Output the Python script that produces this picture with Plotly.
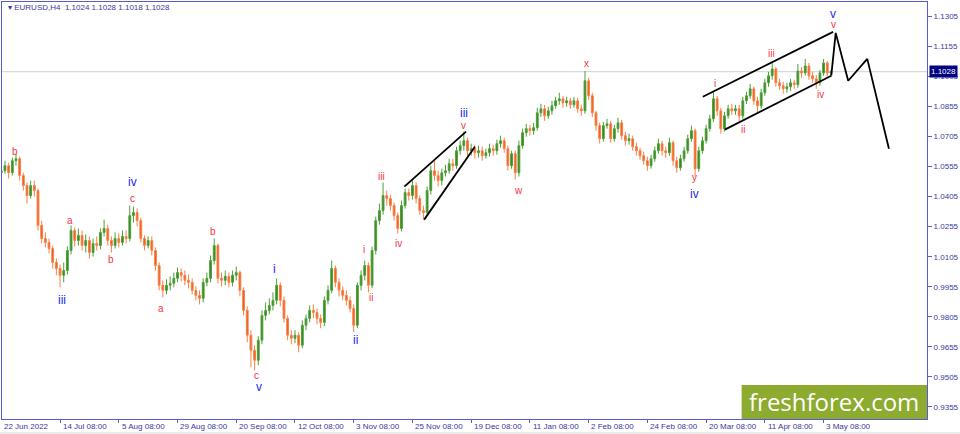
import plotly.graph_objects as go

# ---------------- data (EURUSD, compressed to one candle per trading day) ----------------
FIRST_OPEN = 1.0524
closes = [
 1.0534,1.0559,1.0524,1.0584,1.0594,1.0510,1.0460,1.0410,1.0460,1.0435,
 1.0261,1.0196,1.0176,1.0146,1.0076,1.0046,1.0012,1.0036,1.0136,1.0236,
 1.0186,1.0211,1.0161,1.0186,1.0126,1.0171,1.0161,1.0226,1.0246,1.0186,
 1.0161,1.0196,1.0176,1.0206,1.0196,1.0310,1.0325,1.0285,1.0196,1.0161,
 1.0186,1.0136,1.0061,0.9962,0.9937,0.9962,0.9972,0.9997,1.0026,1.0012,
 0.9987,0.9977,0.9937,0.9912,0.9897,0.9977,0.9997,1.0086,1.0161,0.9997,
 0.9987,1.0007,0.9977,1.0012,1.0026,0.9937,0.9837,0.9713,0.9638,0.9588,
 0.9688,0.9812,0.9837,0.9862,0.9887,0.9962,0.9887,0.9797,0.9713,0.9698,
 0.9713,0.9663,0.9763,0.9797,0.9837,0.9827,0.9797,0.9777,0.9887,0.9937,
 1.0046,0.9977,0.9937,0.9912,0.9887,0.9847,0.9763,0.9962,1.0012,1.0061,
 0.9962,1.0136,1.0285,1.0335,1.0410,1.0395,1.0360,1.0310,1.0246,1.0360,
 1.0425,1.0410,1.0460,1.0395,1.0335,1.0325,1.0435,1.0534,1.0510,1.0485,
 1.0524,1.0534,1.0569,1.0559,1.0634,1.0659,1.0684,1.0634,1.0644,1.0624,
 1.0634,1.0609,1.0624,1.0644,1.0634,1.0669,1.0684,1.0644,1.0559,1.0619,
 1.0524,1.0659,1.0724,1.0744,1.0734,1.0749,1.0823,1.0843,1.0808,1.0833,
 1.0858,1.0883,1.0893,1.0873,1.0883,1.0863,1.0883,1.0843,1.0833,1.0983,
 1.0908,1.0823,1.0759,1.0694,1.0759,1.0768,1.0694,1.0744,1.0773,1.0709,
 1.0684,1.0694,1.0654,1.0634,1.0609,1.0584,1.0559,1.0594,1.0634,1.0669,
 1.0634,1.0624,1.0674,1.0584,1.0549,1.0594,1.0634,1.0694,1.0734,1.0544,
 1.0634,1.0684,1.0744,1.0793,1.0893,1.0833,1.0744,1.0808,1.0843,1.0833,
 1.0843,1.0808,1.0883,1.0908,1.0943,1.0883,1.0858,1.0923,1.0973,1.1008,
 1.1042,1.0973,1.0958,1.0943,1.0953,1.0973,1.0963,1.1032,1.1022,1.1057,
 1.1008,1.0993,1.0973,1.1022,1.1072,1.1022,1.1028]
highs = [
 1.0574,1.0584,1.0574,1.0599,1.0619,1.0604,1.0524,1.0475,1.0485,1.0485,
 1.0445,1.0285,1.0226,1.0196,1.0161,1.0096,1.0066,1.0076,1.0156,1.0261,
 1.0251,1.0246,1.0236,1.0216,1.0206,1.0196,1.0206,1.0246,1.0290,1.0265,
 1.0206,1.0226,1.0221,1.0236,1.0236,1.0360,1.0355,1.0345,1.0300,1.0211,
 1.0206,1.0206,1.0151,1.0076,0.9987,0.9992,1.0007,1.0026,1.0051,1.0046,
 1.0036,1.0016,0.9997,0.9957,0.9937,0.9997,1.0026,1.0111,1.0196,1.0171,
 1.0026,1.0036,1.0026,1.0036,1.0056,1.0036,0.9952,0.9857,0.9738,0.9663,
 0.9708,0.9837,0.9877,0.9897,0.9927,0.9997,0.9977,0.9907,0.9812,0.9738,
 0.9738,0.9728,0.9787,0.9817,0.9862,0.9867,0.9847,0.9817,0.9907,0.9962,
 1.0086,1.0061,0.9997,0.9957,0.9937,0.9907,0.9867,0.9977,1.0036,1.0086,
 1.0076,1.0156,1.0305,1.0370,1.0475,1.0435,1.0415,1.0375,1.0325,1.0385,
 1.0445,1.0445,1.0495,1.0475,1.0410,1.0360,1.0455,1.0559,1.0584,1.0534,
 1.0544,1.0564,1.0594,1.0594,1.0654,1.0684,1.0729,1.0699,1.0669,1.0664,
 1.0659,1.0654,1.0644,1.0669,1.0664,1.0689,1.0709,1.0699,1.0659,1.0634,
 1.0634,1.0684,1.0744,1.0768,1.0763,1.0773,1.0848,1.0868,1.0863,1.0853,
 1.0883,1.0903,1.0923,1.0908,1.0903,1.0898,1.0903,1.0898,1.0863,1.1032,
 1.0998,1.0923,1.0833,1.0773,1.0778,1.0793,1.0783,1.0763,1.0798,1.0788,
 1.0729,1.0719,1.0709,1.0674,1.0649,1.0629,1.0604,1.0614,1.0654,1.0694,
 1.0684,1.0654,1.0699,1.0684,1.0604,1.0614,1.0654,1.0714,1.0759,1.0744,
 1.0654,1.0704,1.0763,1.0813,1.0933,1.0908,1.0848,1.0828,1.0863,1.0868,
 1.0863,1.0863,1.0903,1.0928,1.0968,1.0953,1.0903,1.0943,1.0993,1.1027,
 1.1077,1.1052,1.0993,1.0978,1.0973,1.0993,1.0988,1.1067,1.1052,1.1092,
 1.1072,1.1027,1.1012,1.1037,1.1092,1.1082,1.1037]
lows = [
 1.0500,1.0519,1.0495,1.0510,1.0559,1.0485,1.0435,1.0370,1.0395,1.0405,
 1.0236,1.0171,1.0151,1.0121,1.0046,1.0012,0.9952,0.9977,1.0016,1.0116,
 1.0156,1.0161,1.0136,1.0126,1.0096,1.0106,1.0136,1.0141,1.0206,1.0161,
 1.0126,1.0146,1.0151,1.0161,1.0171,1.0181,1.0275,1.0256,1.0176,1.0136,
 1.0146,1.0111,1.0036,0.9937,0.9902,0.9917,0.9937,0.9952,0.9977,0.9982,
 0.9962,0.9947,0.9917,0.9887,0.9867,0.9877,0.9957,0.9977,1.0066,0.9972,
 0.9957,0.9962,0.9952,0.9957,0.9987,0.9907,0.9812,0.9678,0.9553,0.9538,
 0.9563,0.9668,0.9787,0.9817,0.9837,0.9867,0.9857,0.9777,0.9688,0.9668,
 0.9673,0.9628,0.9648,0.9738,0.9777,0.9797,0.9767,0.9748,0.9758,0.9867,
 0.9922,0.9952,0.9907,0.9887,0.9862,0.9827,0.9728,0.9748,0.9937,0.9987,
 0.9927,0.9947,1.0116,1.0265,1.0315,1.0360,1.0335,1.0285,1.0221,1.0231,
 1.0345,1.0385,1.0390,1.0370,1.0315,1.0290,1.0310,1.0415,1.0485,1.0455,
 1.0460,1.0505,1.0519,1.0534,1.0544,1.0614,1.0634,1.0604,1.0609,1.0594,
 1.0599,1.0584,1.0594,1.0604,1.0609,1.0614,1.0649,1.0624,1.0534,1.0544,
 1.0490,1.0505,1.0644,1.0704,1.0709,1.0714,1.0734,1.0803,1.0783,1.0793,
 1.0813,1.0843,1.0863,1.0848,1.0853,1.0843,1.0848,1.0823,1.0808,1.0818,
 1.0888,1.0803,1.0734,1.0669,1.0679,1.0744,1.0674,1.0679,1.0724,1.0689,
 1.0659,1.0664,1.0634,1.0609,1.0589,1.0564,1.0534,1.0544,1.0579,1.0619,
 1.0609,1.0599,1.0609,1.0559,1.0524,1.0534,1.0579,1.0619,1.0679,1.0505,
 1.0529,1.0619,1.0669,1.0729,1.0778,1.0808,1.0719,1.0729,1.0793,1.0813,
 1.0813,1.0783,1.0793,1.0868,1.0893,1.0863,1.0828,1.0843,1.0908,1.0953,
 1.0988,1.0953,1.0938,1.0918,1.0923,1.0933,1.0943,1.0948,1.0998,1.1008,
 1.0988,1.0973,1.0943,1.0958,1.1008,1.1003,1.1003]

date_labels = ["22 Jun 2022","14 Jul 08:00","5 Aug 08:00","29 Aug 08:00","20 Sep 08:00",
               "12 Oct 08:00","3 Nov 08:00","25 Nov 08:00","19 Dec 08:00","11 Jan 08:00",
               "2 Feb 08:00","24 Feb 08:00","20 Mar 08:00","11 Apr 08:00","3 May 08:00"]
date_label_pos = [0,16,32,48,64,80,96,112,128,144,160,176,192,208,224]
price_ticks = [0.9355,0.9505,0.9655,0.9805,0.9955,1.0105,1.0255,1.0405,1.0555,1.0705,
               1.0855,1.1005,1.1155,1.1305]
last_price = 1.1028
header_text = "EURUSD,H4  1.1024 1.1028 1.1018 1.1028"

wave_text = ["b","iii","a","b","iv","c","a","b","c","v","i","ii","i","ii","iii","iv",
             "iii","v","w","x","y","iv","i","ii","iii","iv","v","v"]
wave_x = [3.7,16.5,18.6,30.0,35.7,35.7,43.6,57.7,69.6,70.2,74.5,96.5,98.9,100.8,103.5,108.1,
          126.0,126.0,140.9,159.4,188.7,188.7,194.4,202.0,209.8,223.1,226.6,226.6]
wave_y = [1.0629,0.9887,1.0285,1.0091,1.0480,1.0397,0.9847,1.0231,0.9512,0.9454,1.0046,0.9688,
          1.0141,0.9902,1.0505,1.0171,1.0823,1.0760,1.0435,1.1067,1.0498,1.0420,1.0968,1.0739,
          1.1117,1.0913,1.1316,1.1263]
wave_major = [0,1,0,0,1,0,0,0,0,1,1,1,0,0,0,0,1,0,0,0,0,1,0,0,0,0,1,0]

wedge_upper_x, wedge_upper_y = [109.8,126.6], [1.0455,1.0729]
wedge_lower_x, wedge_lower_y = [115.2,129.0], [1.0290,1.0654]
chan_upper_x, chan_upper_y = [191.1,226.6], [1.0903,1.1227]
chan_lower_x, chan_lower_y = [197.1,226.1], [1.0739,1.1008]
proj_x = [226.1,227.3,230.7,235.9,241.8]
proj_y = [1.1010,1.1222,1.0983,1.1092,1.0644]

# ---------------- figure ----------------
opens = [FIRST_OPEN] + closes[:-1]
idx = list(range(len(closes)))

AXC = "#5a5ad2"
TXC = "#38389e"
RED = "#f5333f"
BLUE = "#2a2ae6"
FONT = "Liberation Sans"

fig = go.Figure()
fig.add_trace(go.Candlestick(
    x=idx, open=opens, high=highs, low=lows, close=closes,
    increasing=dict(line=dict(color="#4f9f38", width=1), fillcolor="#2f8a1e"),
    decreasing=dict(line=dict(color="#f78048", width=1), fillcolor="#f25a14"),
    whiskerwidth=0, hoverinfo="skip", showlegend=False))

for xs, ys in [(wedge_upper_x, wedge_upper_y), (wedge_lower_x, wedge_lower_y),
               (chan_upper_x, chan_upper_y), (chan_lower_x, chan_lower_y), (proj_x, proj_y)]:
    fig.add_trace(go.Scatter(x=xs, y=ys, mode="lines", line=dict(color="black", width=1.8),
                             hoverinfo="skip", showlegend=False))

ann = []
for t, x, y, m in zip(wave_text, wave_x, wave_y, wave_major):
    ann.append(dict(x=x, y=y, xref="x", yref="y", text=t, showarrow=False,
                    xanchor="center", yanchor="middle",
                    font=dict(family=FONT, size=12 if m else 10, color=BLUE if m else RED)))
for lab, p in zip(date_labels, date_label_pos):
    ann.append(dict(x=p + 0.2, y=-0.017, xref="x", yref="paper", text=lab, showarrow=False,
                    xanchor="left", yanchor="middle", font=dict(family=FONT, size=8, color=TXC)))
ann.append(dict(x=0.004, y=0.986, xref="paper", yref="paper", text="▾ " + header_text,
                showarrow=False, xanchor="left", yanchor="middle",
                font=dict(family=FONT, size=8, color=TXC)))
ann.append(dict(x=1.0025, y=last_price, xref="paper", yref="y", text="1.1028", showarrow=False,
                xanchor="left", yanchor="middle", bgcolor="#000080", borderpad=1,
                font=dict(family=FONT, size=8, color="white")))
ann.append(dict(x=0.8998, y=0.041, xref="paper", yref="paper", text="freshforex.com",
                showarrow=False, xanchor="center", yanchor="middle",
                font=dict(family="Open Sans", size=24, color="white")))

shapes = [
    dict(type="line", xref="paper", yref="y", x0=0, x1=1, y0=last_price, y1=last_price,
         line=dict(color="#cfcfcf", width=1), layer="below"),
    dict(type="rect", xref="paper", yref="paper", x0=0.7996, x1=1.0, y0=0.0, y1=0.0813,
         fillcolor="#8dab2e", line=dict(width=0), layer="above"),
    dict(type="rect", xref="paper", yref="paper", x0=-0.01, x1=1.04, y0=-0.036, y1=-0.031,
         fillcolor="#ececec", line=dict(width=0)),
]

fig.update_layout(
    width=960, height=434, margin=dict(l=2, r=30, t=1, b=15),
    paper_bgcolor="white", plot_bgcolor="white", showlegend=False,
    annotations=ann, shapes=shapes, hovermode=False,
    xaxis=dict(range=[0.19, 252.17], rangeslider=dict(visible=False), showgrid=False,
               zeroline=False, showline=True, linecolor=AXC, linewidth=1, mirror=True,
               tickmode="array", tickvals=date_label_pos[1:], ticks="outside", ticklen=3,
               tickcolor=AXC, showticklabels=False, fixedrange=True),
    yaxis=dict(range=[0.9295, 1.1376], side="right", showgrid=False, zeroline=False,
               showline=True, linecolor=AXC, linewidth=1, mirror=True,
               tickmode="array", tickvals=price_ticks, tickformat=".4f",
               ticks="outside", ticklen=4, tickcolor=AXC,
               tickfont=dict(family=FONT, size=8, color=TXC), fixedrange=True),
)

fig.write_html("out.html", config={"displayModeBar": False},
               post_script="document.body.style.margin='0';document.body.style.padding='0';"
                           "document.body.style.overflow='hidden';")
